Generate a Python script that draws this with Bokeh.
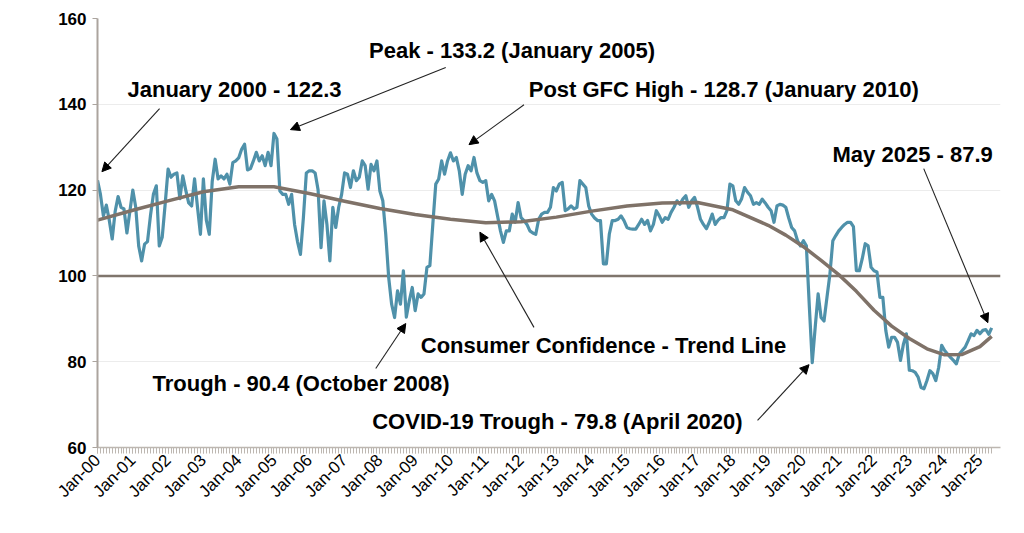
import math
from bokeh.plotting import figure
from bokeh.models import (Range1d, FixedTicker, Span, Label, Arrow, NormalHead)
from bokeh.embed import file_html
from bokeh.resources import INLINE

# ---------------- data ----------------
# Monthly consumer sentiment index, Jan 2000 .. May 2025
sentiment = [
    122.3, 119, 114, 116.5, 113, 108.6, 115, 118.5, 116, 115.6, 110, 115,            # 2000
    120, 116, 107, 103.5, 107.4, 108, 114, 119, 121, 107, 109, 116.7,                # 2001
    124.9, 123, 123.7, 124, 118, 123.3, 120, 117, 116.3, 122.6, 116, 109.7,          # 2002
    122.6, 113, 109.7, 122, 127.2, 122.6, 123.3, 122.6, 123.7, 121.4, 126.4, 126.8,  # 2003
    127.5, 129.5, 130.7, 124.7, 125, 126.8, 128.8, 126.8, 128, 125.7, 128.8, 125.7,  # 2004
    133.2, 131.9, 119.8, 119, 119, 116.7, 119, 112, 108, 105, 113.6, 124,            # 2005
    124.5, 124.5, 124, 120, 106.6, 117.5, 112, 103.5, 116, 111.3, 116, 119,          # 2006
    124, 123.7, 120.6, 124.5, 122.2, 123, 126.8, 125.7, 120.2, 126, 124.5, 126.8,    # 2007
    119.8, 117.5, 109.7, 99.6, 93.4, 90.3, 96.5, 93.4, 101.2, 90.4, 94.2, 97.3,      # 2008
    91.9, 95.8, 95, 95.8, 102, 102.4, 112, 121.4, 122.6, 126.8, 123.7, 126.8,        # 2009
    128.7, 126.8, 127.6, 124.5, 119, 123.7, 125.7, 124.5, 127.6, 124, 122.2, 121.8,  # 2010
    122.2, 117.5, 119, 117.5, 114, 110.5, 107.8, 110.5, 110.5, 114.4, 112.5, 117.1,  # 2011
    113.6, 112.9, 112, 110.5, 110, 109.7, 113.2, 114.4, 114.8, 114.8, 116, 120.6,    # 2012
    119.8, 121.4, 121.8, 115.2, 115.6, 116.3, 115.6, 116, 122.2, 121.4, 120.6, 116.3,  # 2013
    114.4, 113.5, 112.9, 112.9, 102.8, 102.8, 109.7, 112.9, 112.9, 113.2, 114, 112.9,  # 2014
    111.3, 111, 110.9, 110.9, 112, 113.2, 112, 112.9, 110.5, 112, 115.2, 114,        # 2015
    112.5, 113.6, 113.2, 114.8, 116, 117.5, 116.7, 117.9, 118.7, 116, 117.5, 118.3,  # 2016
    116, 113.2, 112, 111, 112.5, 114.4, 112, 113, 113.6, 113.6, 115.2, 121.4,        # 2017
    121, 117.5, 116.7, 118, 120.6, 119.5, 118.7, 116.7, 117.1, 116.7, 117.9, 117,    # 2018
    116, 115.2, 112.5, 116.3, 116.7, 116.5, 116, 113.5, 111.3, 110.5, 108.2, 107,    # 2019
    108.2, 107, 93, 79.8, 88, 95.8, 90.3, 89.5, 95, 100.4, 108.2, 109.4,             # 2020
    110.5, 111.3, 112, 112.5, 112.5, 111.5, 101.2, 101.2, 104, 107.5, 107, 102,      # 2021
    101.2, 100.9, 95, 95, 87.3, 83.4, 85.7, 85.7, 84.5, 80.3, 84.1, 86.5,            # 2022
    78, 77.9, 77.5, 76.4, 74, 73.7, 75.6, 77.9, 77.2, 75.6, 78.7, 83.8,              # 2023
    82.6, 81.8, 81, 80.3, 79.5, 81.8, 82.6, 83.4, 84.9, 86.5, 86.1, 87.3,            # 2024
    86.5, 87.3, 87.5, 86.4, 87.9,                                                    # 2025
]
months = list(range(len(sentiment)))  # month index from Jan 2000

# Trend line values (month index -> value)
trend_months = [0, 12, 24, 36, 48, 60, 72, 84, 96, 108, 120, 132, 144, 156, 168,
                180, 192, 204, 216, 228, 234, 240, 246, 252, 258, 264, 270, 276,
                282, 288, 294, 300, 304]
trend_values = [113, 115.3, 117.5, 119.6, 120.8, 120.8, 119.2, 117.4, 115.7, 114.3,
                113.2, 112.4, 112.6, 113.7, 115.1, 116.3, 117.0, 117.1, 115.4, 111.8,
                109.5, 106.8, 103.6, 100.3, 96.4, 92.0, 88.3, 85.4,
                83.0, 81.6, 81.7, 83.5, 85.9]

baseline_value = 100

tick_months = list(range(0, 301, 12))
tick_labels = ["Jan-00", "Jan-01", "Jan-02", "Jan-03", "Jan-04", "Jan-05", "Jan-06",
               "Jan-07", "Jan-08", "Jan-09", "Jan-10", "Jan-11", "Jan-12", "Jan-13",
               "Jan-14", "Jan-15", "Jan-16", "Jan-17", "Jan-18", "Jan-19", "Jan-20",
               "Jan-21", "Jan-22", "Jan-23", "Jan-24", "Jan-25"]
y_ticks = [60, 80, 100, 120, 140, 160]

# annotations: text, label position (month, value), arrow start, arrow tip
annotations = [
    ("January 2000 - 122.3", (10.2, 143.5), (21.1, 139.0), (1.5, 124.3)),
    ("Peak - 133.2 (January 2005)", (92.3, 152.6), (118.4, 148.6), (65.6, 134.1)),
    ("Post GFC High - 128.7 (January 2010)", (146.6, 143.5), (145.0, 139.9), (126.3, 130.6)),
    ("May 2025 - 87.9", (249.9, 128.2), (280.9, 125.0), (302.7, 89.1)),
    ("Consumer Confidence  - Trend Line", (109.9, 83.8), (148.4, 88.0), (130.0, 110.2)),
    ("Trough - 90.4 (October 2008)", (18.7, 75.0), (94.6, 78.4), (104.8, 88.9)),
    ("COVID-19  Trough - 79.8 (April 2020)", (93.4, 66.0), (224.4, 66.3), (241.9, 79.3)),
]

# ---------------- figure ----------------
FONT = "Liberation Sans"
p = figure(width=1016, height=525, output_backend="svg", toolbar_location=None,
           x_range=Range1d(0, 307), y_range=Range1d(60, 160),
           min_border_left=97, min_border_right=16, min_border_top=18, min_border_bottom=78)
p.outline_line_color = None
p.background_fill_color = "white"
p.border_fill_color = "white"

# axes
p.yaxis.ticker = FixedTicker(ticks=y_ticks, minor_ticks=[])
p.yaxis.axis_line_color = "#ABA49E"
p.yaxis.axis_line_width = 2
p.yaxis.major_tick_line_color = "#ABA49E"
p.yaxis.major_tick_out = 5
p.yaxis.major_tick_in = 0
p.yaxis.minor_tick_out = 0
p.yaxis.major_label_text_font = FONT
p.yaxis.major_label_text_font_style = "bold"
p.yaxis.major_label_text_font_size = "17px"
p.yaxis.major_label_text_color = "black"
p.yaxis.major_label_standoff = 6

p.xaxis.ticker = FixedTicker(ticks=tick_months, minor_ticks=months)
p.xaxis.major_label_overrides = {m: lab for m, lab in zip(tick_months, tick_labels)}
p.xaxis.major_label_orientation = math.pi / 4
p.xaxis.axis_line_color = "#BDB7B1"
p.xaxis.axis_line_width = 1.5
p.xaxis.major_tick_line_color = "#BDB7B1"
p.xaxis.minor_tick_line_color = "#BDB7B1"
p.xaxis.major_tick_out = 6
p.xaxis.major_tick_in = 0
p.xaxis.minor_tick_out = 6
p.xaxis.minor_tick_in = 0
p.xaxis.major_label_text_font = FONT
p.xaxis.major_label_text_font_size = "17px"
p.xaxis.major_label_text_color = "black"
p.xaxis.major_label_standoff = 4

p.xgrid.grid_line_color = None
p.ygrid.grid_line_color = "#ECECEC"
p.ygrid.grid_line_width = 1

# baseline at 100
p.add_layout(Span(location=baseline_value, dimension="width", line_color="#7F756C",
                  line_width=2.5, level="underlay"))

# series
p.line(months, sentiment, line_color="#4F91AA", line_width=3.2, line_join="round")
p.line(trend_months, trend_values, line_color="#7F7268", line_width=3.5, line_join="round")

# annotations
for text, (lx, ly), (sx, sy), (ex, ey) in annotations:
    p.add_layout(Label(x=lx, y=ly, text=text, text_font=FONT, text_font_style="bold",
                       text_font_size="22px", text_color="black",
                       text_align="left", text_baseline="alphabetic"))
    p.add_layout(Arrow(x_start=sx, y_start=sy, x_end=ex, y_end=ey,
                       line_color="#222222", line_width=1.1,
                       end=NormalHead(size=9, fill_color="black", line_color="black",
                                      line_width=1)))

with open("out.html", "w") as f:
    f.write(file_html(p, INLINE))
